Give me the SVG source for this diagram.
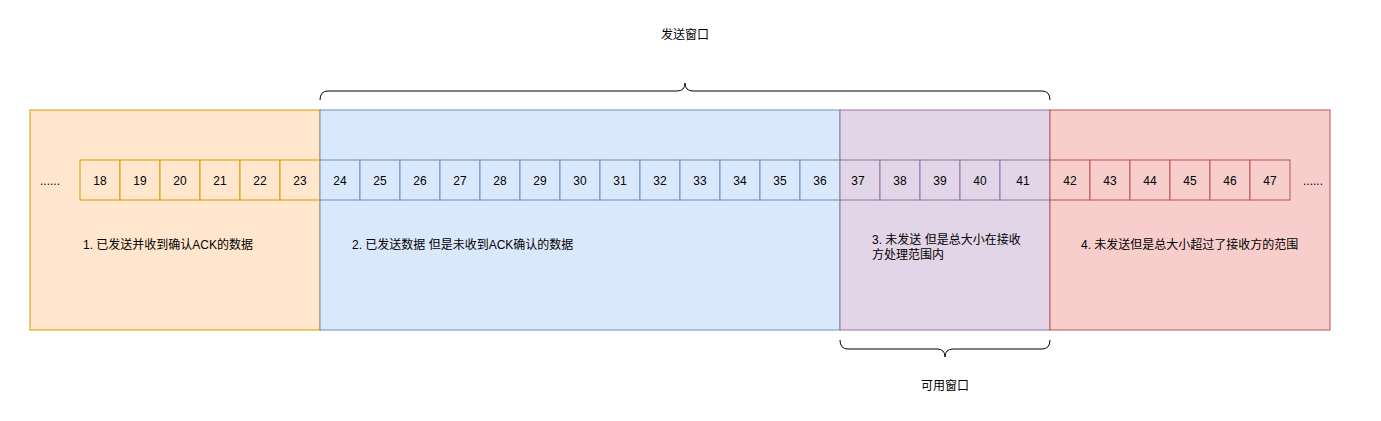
<svg xmlns="http://www.w3.org/2000/svg" width="1381" height="421" viewBox="0 0 1381 421">
<style>
text{font-family:"Liberation Sans","Noto Sans CJK SC",sans-serif;font-size:12px;fill:#000}
.c{text-anchor:middle;dominant-baseline:central}
.l{dominant-baseline:central}
.o{fill:#ffe6cc;stroke:#d79b00}
.b{fill:#dae8fc;stroke:#6c8ebf}
.p{fill:#e1d5e7;stroke:#9673a6}
.r{fill:#f8cecc;stroke:#b85450}
.brace{fill:none;stroke:#000;stroke-width:1}
</style>
<rect width="1381" height="421" fill="#fff"/>
<g id="region1"><rect class="o" x="30" y="110" width="290" height="220"/><text class="l" x="83" y="245">1. 已发送并收到确认ACK的数据</text></g>
<g id="region2"><rect class="b" x="320" y="110" width="520" height="220"/><text class="l" x="352" y="245">2. 已发送数据 但是未收到ACK确认的数据</text></g>
<g id="region3"><rect class="p" x="840" y="110" width="210" height="220"/><text class="l" x="872" y="240">3. 未发送 但是总大小在接收</text><text class="l" x="872" y="255">方处理范围内</text></g>
<g id="region4"><rect class="r" x="1050" y="110" width="280" height="220"/><text class="l" x="1081" y="245">4. 未发送但是总大小超过了接收方的范围</text></g>
<g id="dots"><text class="c" x="50" y="181">......</text><text class="c" x="1313" y="181">......</text></g>
<g id="cells-orange">
<rect class="o" x="80" y="160" width="40" height="40"/><text class="c" x="100" y="181">18</text>
<rect class="o" x="120" y="160" width="40" height="40"/><text class="c" x="140" y="181">19</text>
<rect class="o" x="160" y="160" width="40" height="40"/><text class="c" x="180" y="181">20</text>
<rect class="o" x="200" y="160" width="40" height="40"/><text class="c" x="220" y="181">21</text>
<rect class="o" x="240" y="160" width="40" height="40"/><text class="c" x="260" y="181">22</text>
<rect class="o" x="280" y="160" width="40" height="40"/><text class="c" x="300" y="181">23</text>
</g>
<g id="cells-blue">
<rect class="b" x="320" y="160" width="40" height="40"/><text class="c" x="340" y="181">24</text>
<rect class="b" x="360" y="160" width="40" height="40"/><text class="c" x="380" y="181">25</text>
<rect class="b" x="400" y="160" width="40" height="40"/><text class="c" x="420" y="181">26</text>
<rect class="b" x="440" y="160" width="40" height="40"/><text class="c" x="460" y="181">27</text>
<rect class="b" x="480" y="160" width="40" height="40"/><text class="c" x="500" y="181">28</text>
<rect class="b" x="520" y="160" width="40" height="40"/><text class="c" x="540" y="181">29</text>
<rect class="b" x="560" y="160" width="40" height="40"/><text class="c" x="580" y="181">30</text>
<rect class="b" x="600" y="160" width="40" height="40"/><text class="c" x="620" y="181">31</text>
<rect class="b" x="640" y="160" width="40" height="40"/><text class="c" x="660" y="181">32</text>
<rect class="b" x="680" y="160" width="40" height="40"/><text class="c" x="700" y="181">33</text>
<rect class="b" x="720" y="160" width="40" height="40"/><text class="c" x="740" y="181">34</text>
<rect class="b" x="760" y="160" width="40" height="40"/><text class="c" x="780" y="181">35</text>
<rect class="b" x="800" y="160" width="40" height="40"/><text class="c" x="820" y="181">36</text>
</g>
<g id="cells-purple">
<rect class="p" x="840" y="160" width="40" height="40"/><text class="c" x="858" y="181">37</text>
<rect class="p" x="880" y="160" width="40" height="40"/><text class="c" x="900" y="181">38</text>
<rect class="p" x="920" y="160" width="40" height="40"/><text class="c" x="940" y="181">39</text>
<rect class="p" x="960" y="160" width="40" height="40"/><text class="c" x="980" y="181">40</text>
<rect class="p" x="1000" y="160" width="50" height="40"/><text class="c" x="1023" y="181">41</text>
</g>
<g id="cells-red">
<rect class="r" x="1050" y="160" width="40" height="40"/><text class="c" x="1070" y="181">42</text>
<rect class="r" x="1090" y="160" width="40" height="40"/><text class="c" x="1110" y="181">43</text>
<rect class="r" x="1130" y="160" width="40" height="40"/><text class="c" x="1150" y="181">44</text>
<rect class="r" x="1170" y="160" width="40" height="40"/><text class="c" x="1190" y="181">45</text>
<rect class="r" x="1210" y="160" width="40" height="40"/><text class="c" x="1230" y="181">46</text>
<rect class="r" x="1250" y="160" width="40" height="40"/><text class="c" x="1270" y="181">47</text>
</g>
<g id="send-window">
<path class="brace" d="M320,100 Q320,91 328,91 L677,91 Q685,91 685,83 Q685,91 693,91 L1042,91 Q1050,91 1050,100"/>
<text class="c" x="685" y="35">发送窗口</text>
</g>
<g id="usable-window">
<path class="brace" d="M840,340 Q840,349 848,349 L937,349 Q945,349 945,357 Q945,349 953,349 L1042,349 Q1050,349 1050,340"/>
<text class="c" x="945" y="386">可用窗口</text>
</g>
</svg>
